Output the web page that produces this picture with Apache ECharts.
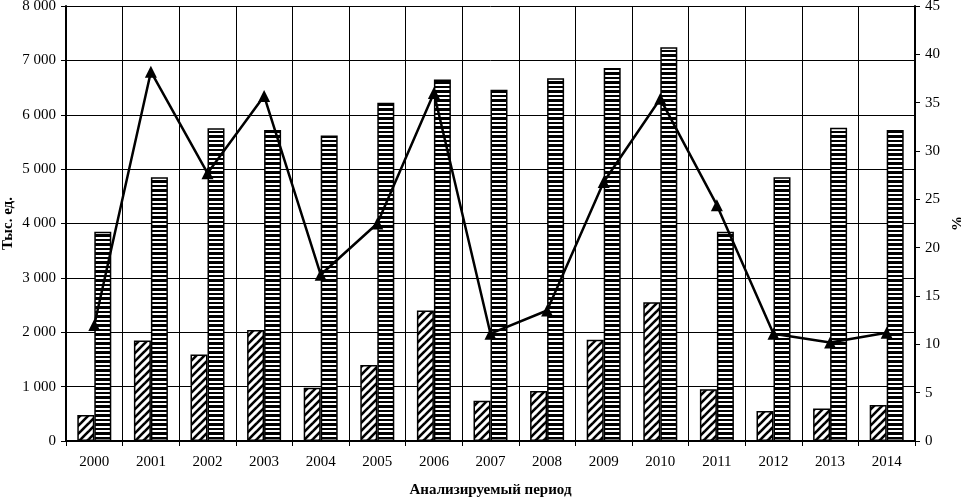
<!DOCTYPE html>
<html><head><meta charset="utf-8">
<script src="https://cdn.jsdelivr.net/npm/echarts@6/dist/echarts.min.js"></script>
<style>html,body{margin:0;padding:0;background:#fff}#c{width:961px;height:498px}</style>
</head><body><div id="c"></div>
<script>
var years = ['2000','2001','2002','2003','2004','2005','2006','2007','2008','2009','2010','2011','2012','2013','2014'];
var hatchedValues = [480,1850,1590,2040,980,1400,2400,740,920,1860,2550,950,550,600,660];
var stripedValues = [3850,4850,5750,5720,5620,6220,6650,6460,6670,6860,7240,3850,4850,5760,5720];
var percentValues = [12.0,38.2,27.7,35.7,17.2,22.5,36.0,11.1,13.5,26.8,35.4,24.4,11.1,10.2,11.2];
var leftTicks = {min:0,max:8000,interval:1000};
var rightTicks = {min:0,max:45,interval:5};

function makeStripe(){
  var c=document.createElement('canvas');c.width=6;c.height=9;
  var g=c.getContext('2d');g.fillStyle='#fff';g.fillRect(0,0,6,9);
  g.fillStyle='#000';g.fillRect(0,0,6,3);g.fillRect(0,5,6,2);return c;
}
function makeDiag(){
  var s=8;var c=document.createElement('canvas');c.width=s;c.height=s;
  var g=c.getContext('2d');g.fillStyle='#fff';g.fillRect(0,0,s,s);
  g.strokeStyle='#000';g.lineWidth=2.6;
  g.beginPath();g.moveTo(-1,s+1);g.lineTo(s+1,-1);g.stroke();
  g.beginPath();g.moveTo(-1,1);g.lineTo(1,-1);g.stroke();
  g.beginPath();g.moveTo(s-1,s+1);g.lineTo(s+1,s-1);g.stroke();
  return c;
}
var font='Liberation Serif';
var chart=echarts.init(document.getElementById('c'));
chart.setOption({
  animation:false,
  textStyle:{fontFamily:font,color:'#000'},
  grid:{left:66,right:46,top:6,bottom:57,containLabel:false,outerBoundsMode:'none'},
  xAxis:{type:'category',data:years,boundaryGap:true,
    name:'Анализируемый период',nameLocation:'middle',nameGap:42,
    nameTextStyle:{fontFamily:font,fontSize:15,fontWeight:'bold',color:'#000'},
    axisLine:{lineStyle:{color:'#000',width:2}},
    axisTick:{show:true,interval:0,length:5,lineStyle:{color:'#000',width:1}},
    axisLabel:{interval:0,fontSize:15,color:'#000',fontFamily:font,margin:14},
    splitLine:{show:true,interval:0,lineStyle:{color:'#000',width:1}}
  },
  yAxis:[{type:'value',min:leftTicks.min,max:leftTicks.max,interval:leftTicks.interval,
    name:'Тыс. ед.',nameLocation:'middle',nameGap:50,nameRotate:90,nameMoveOverlap:false,
    nameTextStyle:{fontFamily:font,fontSize:15,fontWeight:'bold',color:'#000'},
    axisLine:{show:true,lineStyle:{color:'#000',width:2}},
    axisTick:{show:true,length:5,lineStyle:{color:'#000'}},
    axisLabel:{fontSize:15,color:'#000',fontFamily:font,margin:10,
      formatter:function(v){return String(v).replace(/\B(?=(\d{3})+(?!\d))/g,' ');}},
    splitLine:{show:true,lineStyle:{color:'#000',width:1}}
  },{type:'value',min:rightTicks.min,max:rightTicks.max,interval:rightTicks.interval,position:'right',
    name:'%',nameLocation:'middle',nameGap:36,nameRotate:90,nameMoveOverlap:false,
    nameTextStyle:{fontFamily:font,fontSize:15,fontWeight:'bold',color:'#000'},
    axisLine:{show:true,lineStyle:{color:'#000',width:2}},
    axisTick:{show:true,length:5,lineStyle:{color:'#000'}},
    axisLabel:{fontSize:15,color:'#000',fontFamily:font,margin:10},
    splitLine:{show:false}
  }],
  series:[
    {type:'bar',data:hatchedValues,barWidth:17,barGap:'0%',
      itemStyle:{color:{image:makeDiag(),repeat:'repeat'},borderColor:'#000',borderWidth:1.5}},
    {type:'bar',data:stripedValues,barWidth:17,barGap:'0%',
      itemStyle:{color:{image:makeStripe(),repeat:'repeat'},borderColor:'#000',borderWidth:1.5}},
    {type:'line',yAxisIndex:1,data:percentValues,symbol:'triangle',symbolSize:12,
      lineStyle:{color:'#000',width:2.5},itemStyle:{color:'#000'},z:5}
  ]
});
</script></body></html>
